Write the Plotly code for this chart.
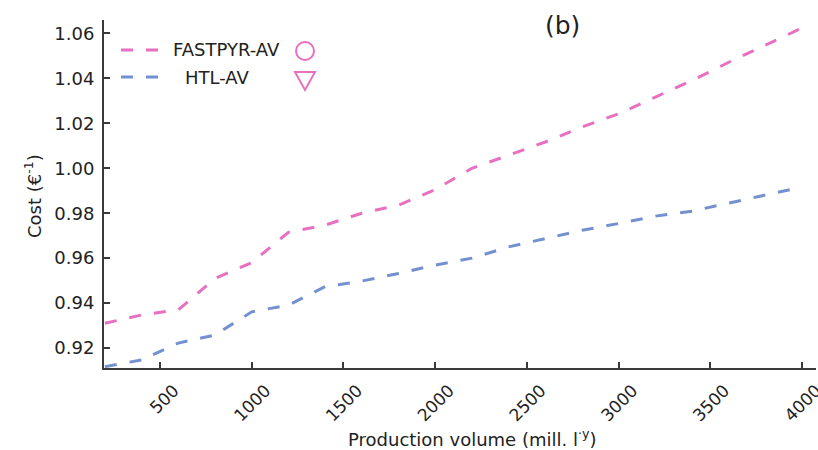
import plotly.graph_objects as go

# Production volume (mill. l/y) and unit cost for the two pathways
volume = [200, 400, 600, 800, 1000, 1200, 1400, 1600, 1800, 2000,
          2200, 2400, 2600, 2800, 3000, 3200, 3400, 3600, 3800, 4000]
fastpyr_av = [0.9310, 0.9347, 0.9370, 0.9510, 0.9580, 0.9715, 0.9747, 0.9800, 0.9836, 0.9905,
              1.0000, 1.0058, 1.0117, 1.0184, 1.0243, 1.0317, 1.0391, 1.0472, 1.0547, 1.0625]
htl_av = [0.9117, 0.9147, 0.9222, 0.9258, 0.9361, 0.9391, 0.9473, 0.9498, 0.9532, 0.9569,
          0.9600, 0.9650, 0.9687, 0.9724, 0.9754, 0.9787, 0.9809, 0.9846, 0.9880, 0.9917]

x_ticks = [500, 1000, 1500, 2000, 2500, 3000, 3500, 4000]
y_ticks = [0.92, 0.94, 0.96, 0.98, 1.00, 1.02, 1.04, 1.06]

PINK = "#E771C0"
BLUE = "#7391D0"
AXIS = "#3a3a3a"
TEXT = "#222222"
FONT = "DejaVu Sans"
DASH = "12px,13px"

fig = go.Figure()
fig.add_trace(go.Scatter(x=volume, y=fastpyr_av, mode="lines", name="FASTPYR-AV",
                         line=dict(color=PINK, width=3, dash=DASH)))
fig.add_trace(go.Scatter(x=volume, y=htl_av, mode="lines", name="HTL-AV",
                         line=dict(color=BLUE, width=3, dash=DASH)))

W, H = 818, 450
ML, MR, MT, MB = 104, 2, 20, 82
pw, ph = W - ML - MR, H - MT - MB


def px(x):
    return (x - ML) / pw


def py(y):
    return (H - MB - y) / ph


# hand-built legend: dash sample, label, marker glyph to the right
shapes = []
annotations = []
for ypix, color, label, lx in [(50, PINK, "FASTPYR-AV", 171), (77, BLUE, "HTL-AV", 183)]:
    shapes.append(dict(type="line", xref="paper", yref="paper",
                       x0=px(121), x1=px(158), y0=py(ypix), y1=py(ypix),
                       line=dict(color=color, width=3, dash=DASH)))
    annotations.append(dict(text=label, xref="paper", yref="paper", x=px(lx), y=py(ypix),
                            xanchor="left", yanchor="middle", showarrow=False,
                            font=dict(family=FONT, size=18, color=TEXT)))

shapes.append(dict(type="circle", xref="paper", yref="paper",
                   xsizemode="pixel", ysizemode="pixel",
                   xanchor=px(305), yanchor=py(51),
                   x0=-9, x1=9, y0=-9, y1=9,
                   line=dict(color=PINK, width=2)))
shapes.append(dict(type="path", xref="paper", yref="paper",
                   xsizemode="pixel", ysizemode="pixel",
                   xanchor=px(305), yanchor=py(80),
                   path="M -10 8 L 10 8 L 0 -10 Z",
                   line=dict(color=PINK, width=2)))

annotations.append(dict(text="(b)", xref="paper", yref="paper", x=px(543), y=py(25),
                        xanchor="left", yanchor="middle", showarrow=False,
                        font=dict(family=FONT, size=25, color=TEXT)))

# axis titles placed as annotations for exact positioning
annotations.append(dict(text="Production volume (mill. l<sup>·y</sup>)", xref="paper", yref="paper",
                        x=px(472), y=py(438), xanchor="center", yanchor="middle", showarrow=False,
                        font=dict(family=FONT, size=18, color=TEXT)))
annotations.append(dict(text="Cost (€<sup>-1</sup>)", xref="paper", yref="paper",
                        x=px(33), y=py(196), xanchor="center", yanchor="middle", showarrow=False,
                        textangle=-90, font=dict(family=FONT, size=18, color=TEXT)))

fig.update_layout(
    width=W, height=H,
    margin=dict(l=ML, r=MR, t=MT, b=MB),
    paper_bgcolor="white", plot_bgcolor="white",
    showlegend=False,
    font=dict(family=FONT, color=TEXT, size=16),
    shapes=shapes,
    annotations=annotations,
    xaxis=dict(
        range=[195, 4075], tickvals=x_ticks, ticktext=[str(v) for v in x_ticks],
        tickangle=-45, ticks="inside", ticklen=6, tickwidth=1.5, tickcolor=AXIS,
        showline=True, linecolor=AXIS, linewidth=2, showgrid=False, zeroline=False,
        tickfont=dict(family=FONT, size=17, color=TEXT),
        ticklabelshift=14, ticklabelstandoff=4, ticklabeloverflow="allow",
        automargin=False,
    ),
    yaxis=dict(
        range=[0.9111, 1.066], tickvals=y_ticks, ticktext=[f"{v:.2f}" for v in y_ticks],
        ticks="inside", ticklen=6, tickwidth=1.5, tickcolor=AXIS,
        showline=True, linecolor=AXIS, linewidth=2, showgrid=False, zeroline=False,
        tickfont=dict(family=FONT, size=18, color=TEXT),
        ticklabelstandoff=4, automargin=False,
    ),
)

fig.write_html("out.html")
